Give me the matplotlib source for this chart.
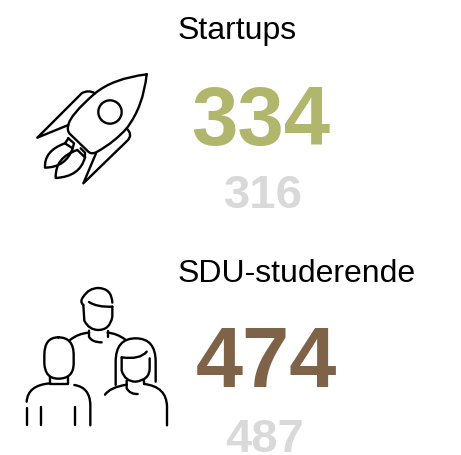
import matplotlib
matplotlib.use("Agg")
import matplotlib.pyplot as plt
from matplotlib.path import Path
from matplotlib.patches import PathPatch, Circle

titles = ["Startups", "SDU-studerende"]
current = ["334", "474"]
previous = ["316", "487"]
colors = ["#b0b76c", "#7f6348"]
GREY = "#d9d9d9"

plt.rcParams["font.family"] = ["Liberation Sans", "DejaVu Sans"]
fig = plt.figure(figsize=(4.61, 4.55), dpi=100)
ax = fig.add_axes([0, 0, 1, 1])
ax.set_xlim(0, 461)
ax.set_ylim(455, 0)
ax.axis("off")

ax.text(178, 39.5, titles[0], fontsize=23, color="black", va="baseline", ha="left")
ax.text(178, 282, titles[1], fontsize=23, color="black", va="baseline", ha="left")
ax.text(261, 145, current[0], fontsize=60, fontweight="bold", color=colors[0], va="baseline", ha="center")
ax.text(266.5, 387, current[1], fontsize=61, fontweight="bold", color=colors[1], va="baseline", ha="center")
ax.text(263, 208.5, previous[0], fontsize=34, fontweight="bold", color=GREY, va="baseline", ha="center")
ax.text(265, 451.5, previous[1], fontsize=34, fontweight="bold", color=GREY, va="baseline", ha="center")


def stroke(ox, oy, parts, lw=1.7):
    """Each part is a polyline in 3x zoom units; c(x, y) is a curve control, the next point its end."""
    for seg in parts:
        verts = [(ox + p[0] / 3, oy + p[1] / 3) for p in seg]
        codes = [Path.MOVETO]
        for i, p in enumerate(seg[1:], start=1):
            is_end = i > 1 and len(seg[i - 1]) == 3
            codes.append(Path.CURVE3 if len(p) == 3 or is_end else Path.LINETO)
        ax.add_patch(PathPatch(Path(verts, codes), fill=False, ec="black", lw=lw,
                               capstyle="round", joinstyle="round"))


def c(x, y):
    return (x, y, 1)


# Rocket icon
stroke(20, 60, [
    [(380, 43), c(280, 55), (225, 100), c(150, 165), (145, 195), c(140, 212), (150, 222), (205, 275),
     c(215, 285), (232, 275), c(285, 245), (320, 205), c(370, 140), (380, 43)],
    [(225, 100), c(205, 88), (185, 100), (52, 233), (145, 195)],
    [(320, 205), c(340, 225), (322, 242), (190, 370), (228, 280)],
    [(135, 250), c(72, 272), (75, 323), c(138, 322), (158, 265)],
    [(172, 270), c(105, 292), (107, 354), c(180, 350), (195, 292)],
    [(145, 235), (162, 250), (158, 265), (135, 250), (145, 235)],
    [(182, 265), (195, 278), (195, 292), (172, 270)],
])
ax.add_patch(Circle((20 + 270 / 3, 60 + 156 / 3), 35 / 3, fill=False, ec="black", lw=1.7))

# People icon
stroke(15, 280, [
    # back man
    [(205, 75), c(193, 65), (205, 50), c(222, 24), (250, 24), c(290, 25), (292, 68)],
    [(222, 66), c(245, 82), (292, 80)],
    [(205, 75), (208, 122), c(222, 150), (250, 150), c(285, 150), (292, 110), (292, 80)],
    [(222, 152), (222, 170), c(230, 187), (260, 187)],
    [(278, 152), (278, 170)],
    [(165, 180), c(190, 160), (222, 158)],
    [(278, 158), c(305, 160), (330, 178)],
    # left man
    [(130, 172), c(88, 172), (88, 225), (88, 250), c(90, 296), (130, 296), c(176, 296), (176, 250), (176, 225),
     c(176, 172), (130, 172)],
    [(106, 292), (106, 312), (158, 312), (158, 292)],
    [(106, 310), c(38, 315), (35, 365)],
    [(178, 315), c(225, 322), (226, 375), (226, 436)],
    [(35, 385), (35, 436)],
    [(79, 380), (79, 436)],
    [(181, 380), (181, 436)],
    # woman
    [(302, 315), (302, 245), c(302, 175), (362, 175), c(422, 175), (422, 245), (422, 305)],
    [(320, 232), c(375, 240), (395, 215)],
    [(320, 232), (320, 272), c(330, 305), (362, 305), c(404, 300), (404, 265), (404, 235)],
    [(335, 302), (335, 325), c(345, 343), (368, 342)],
    [(388, 302), (388, 312)],
    [(270, 344), c(285, 322), (335, 314)],
    [(388, 312), c(455, 320), (456, 380), (456, 436)],
])

fig.savefig("out.png", dpi=100)
